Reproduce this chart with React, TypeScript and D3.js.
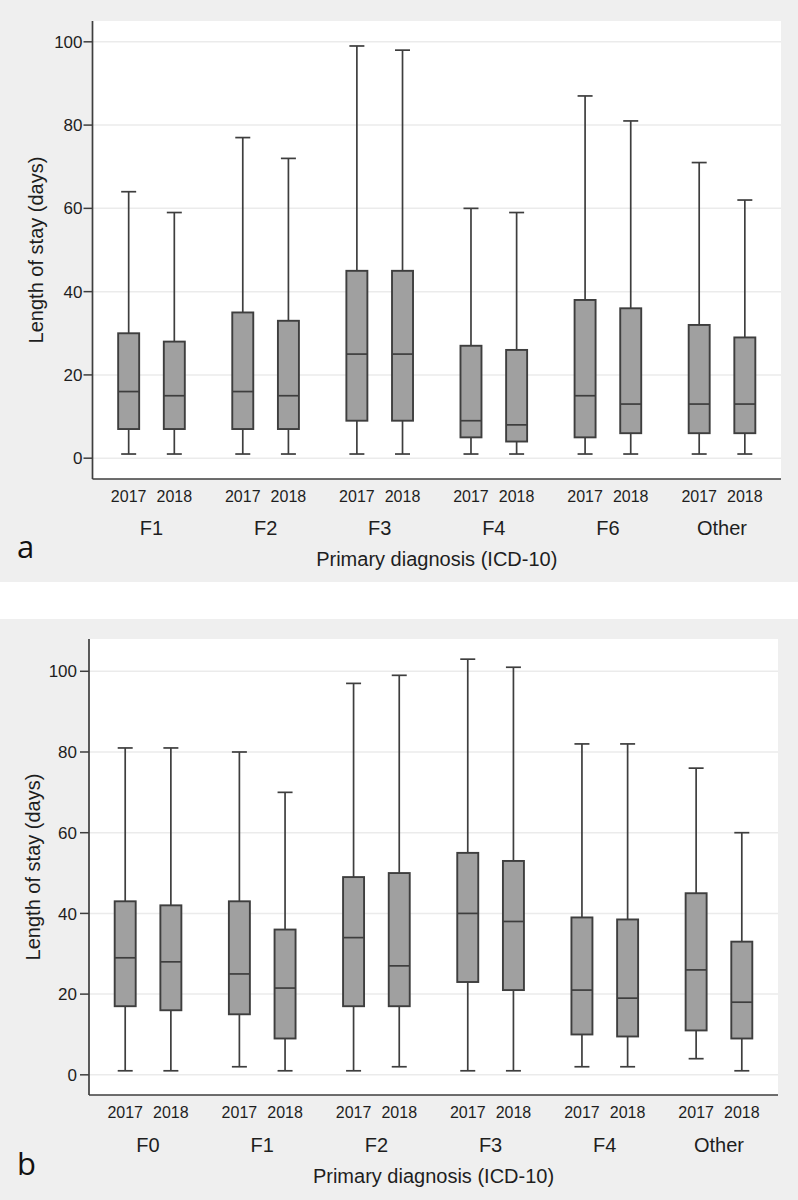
import React from 'react';
import * as d3 from 'd3';

// five-number summaries per box: [low whisker, q1, median, q3, high whisker]
const years = ['2017', '2018'];

const groupsA = ['F1', 'F2', 'F3', 'F4', 'F6', 'Other'];
const statsA2017 = [
  [1, 7, 16, 30, 64],
  [1, 7, 16, 35, 77],
  [1, 9, 25, 45, 99],
  [1, 5, 9, 27, 60],
  [1, 5, 15, 38, 87],
  [1, 6, 13, 32, 71],
];
const statsA2018 = [
  [1, 7, 15, 28, 59],
  [1, 7, 15, 33, 72],
  [1, 9, 25, 45, 98],
  [1, 4, 8, 26, 59],
  [1, 6, 13, 36, 81],
  [1, 6, 13, 29, 62],
];

const groupsB = ['F0', 'F1', 'F2', 'F3', 'F4', 'Other'];
const statsB2017 = [
  [1, 17, 29, 43, 81],
  [2, 15, 25, 43, 80],
  [1, 17, 34, 49, 97],
  [1, 23, 40, 55, 103],
  [2, 10, 21, 39, 82],
  [4, 11, 26, 45, 76],
];
const statsB2018 = [
  [1, 16, 28, 42, 81],
  [1, 9, 21.5, 36, 70],
  [2, 17, 27, 50, 99],
  [1, 21, 38, 53, 101],
  [2, 9.5, 19, 38.5, 82],
  [1, 9, 18, 33, 60],
];

const yTicks = [0, 20, 40, 60, 80, 100];

const FONT = '"Liberation Sans", Arial, sans-serif';
const INK = '#1e1e1e';
const LINE = '#3e3e3e';

interface PanelProps {
  top: number;
  height: number;
  letter: string;
  groups: string[];
  stats: number[][][];
  x0: number;
  x1: number;
  y0: number;
  y1: number;
  yMax: number;
  yTitleX: number;
  tickGap: number;
  yearY: number;
  groupY: number;
  titleY: number;
  letterY: number;
}

const Panel = (p: PanelProps) => {
  const x = d3.scaleBand<string>().domain(p.groups).range([p.x0, p.x1]).paddingInner(0).paddingOuter(0.017);
  const xs = d3.scalePoint<string>().domain(years).range([0, x.bandwidth()]).padding(0.75);
  const y = d3.scaleLinear().domain([-5, p.yMax]).range([p.y1, p.y0]);
  const boxW = 21;
  const capW = 15;
  const sw = 1.7;

  return (
    <g>
      <rect x={0} y={p.top} width={798} height={p.height} fill="#efefef" />
      <rect x={p.x0} y={p.y0} width={p.x1 - p.x0} height={p.y1 - p.y0} fill="#fff" />
      {yTicks.map((t) => (
        <g key={t}>
          <line x1={p.x0} x2={p.x1} y1={y(t)} y2={y(t)} stroke="#ebebeb" strokeWidth={1.5} />
          <line x1={p.x0 - 9} x2={p.x0} y1={y(t)} y2={y(t)} stroke={LINE} strokeWidth={1.5} />
          <text x={p.x0 - p.tickGap} y={y(t)} dy="0.36em" textAnchor="end" fontSize={17} fill={INK} fontFamily={FONT}>
            {t}
          </text>
        </g>
      ))}
      {p.groups.map((g, gi) =>
        years.map((yr, yi) => {
          const [lo, q1, md, q3, hi] = p.stats[yi][gi];
          const cx = (x(g) ?? 0) + (xs(yr) ?? 0);
          return (
            <g key={g + yr}>
              <line x1={cx} x2={cx} y1={y(hi)} y2={y(q3)} stroke={LINE} strokeWidth={sw} />
              <line x1={cx} x2={cx} y1={y(q1)} y2={y(lo)} stroke={LINE} strokeWidth={sw} />
              <line x1={cx - capW / 2} x2={cx + capW / 2} y1={y(hi)} y2={y(hi)} stroke={LINE} strokeWidth={sw} />
              <line x1={cx - capW / 2} x2={cx + capW / 2} y1={y(lo)} y2={y(lo)} stroke={LINE} strokeWidth={sw} />
              <rect
                x={cx - boxW / 2}
                y={y(q3)}
                width={boxW}
                height={y(q1) - y(q3)}
                fill="#a0a0a0"
                stroke={LINE}
                strokeWidth={sw + 0.2}
              />
              <line x1={cx - boxW / 2} x2={cx + boxW / 2} y1={y(md)} y2={y(md)} stroke={LINE} strokeWidth={sw} />
              <text x={cx} y={p.yearY} textAnchor="middle" fontSize={16} fill={INK} fontFamily={FONT}>
                {yr}
              </text>
            </g>
          );
        })
      )}
      {p.groups.map((g) => (
        <text
          key={g}
          x={(x(g) ?? 0) + x.bandwidth() / 2}
          y={p.groupY}
          textAnchor="middle"
          fontSize={20}
          fill={INK}
          fontFamily={FONT}
        >
          {g}
        </text>
      ))}
      <line x1={p.x0} x2={p.x0} y1={p.y0} y2={p.y1} stroke={LINE} strokeWidth={1.7} />
      <line x1={p.x0} x2={p.x1} y1={p.y1} y2={p.y1} stroke={LINE} strokeWidth={1.7} />
      <text
        transform={`translate(${p.yTitleX},${(p.y0 + p.y1) / 2}) rotate(-90)`}
        textAnchor="middle"
        dominantBaseline="central"
        fontSize={20}
        fill={INK}
        fontFamily={FONT}
      >
        Length of stay (days)
      </text>
      <text x={(p.x0 + p.x1) / 2} y={p.titleY} textAnchor="middle" fontSize={20} fill={INK} fontFamily={FONT}>
        Primary diagnosis (ICD-10)
      </text>
      <text x={17} y={p.letterY} fontSize={31} fill="#111" fontFamily='"Open Sans", sans-serif'>
        {p.letter}
      </text>
    </g>
  );
};

export default function App() {
  return (
    <div style={{ position: 'absolute', left: 0, top: 0 }}>
      <svg width={798} height={1200} style={{ display: 'block', background: '#fff' }}>
        <Panel
          top={0}
          height={582}
          letter="a"
          groups={groupsA}
          stats={[statsA2017, statsA2018]}
          x0={92.5}
          x1={781}
          y0={21}
          y1={479}
          yMax={105}
          yTitleX={36}
          tickGap={10}
          yearY={502}
          groupY={535}
          titleY={566}
          letterY={558}
        />
        <Panel
          top={619}
          height={581}
          letter="b"
          groups={groupsB}
          stats={[statsB2017, statsB2018]}
          x0={89}
          x1={778}
          y0={639}
          y1={1095}
          yMax={108}
          yTitleX={32.5}
          tickGap={12}
          yearY={1118}
          groupY={1152}
          titleY={1183}
          letterY={1175}
        />
      </svg>
    </div>
  );
}
